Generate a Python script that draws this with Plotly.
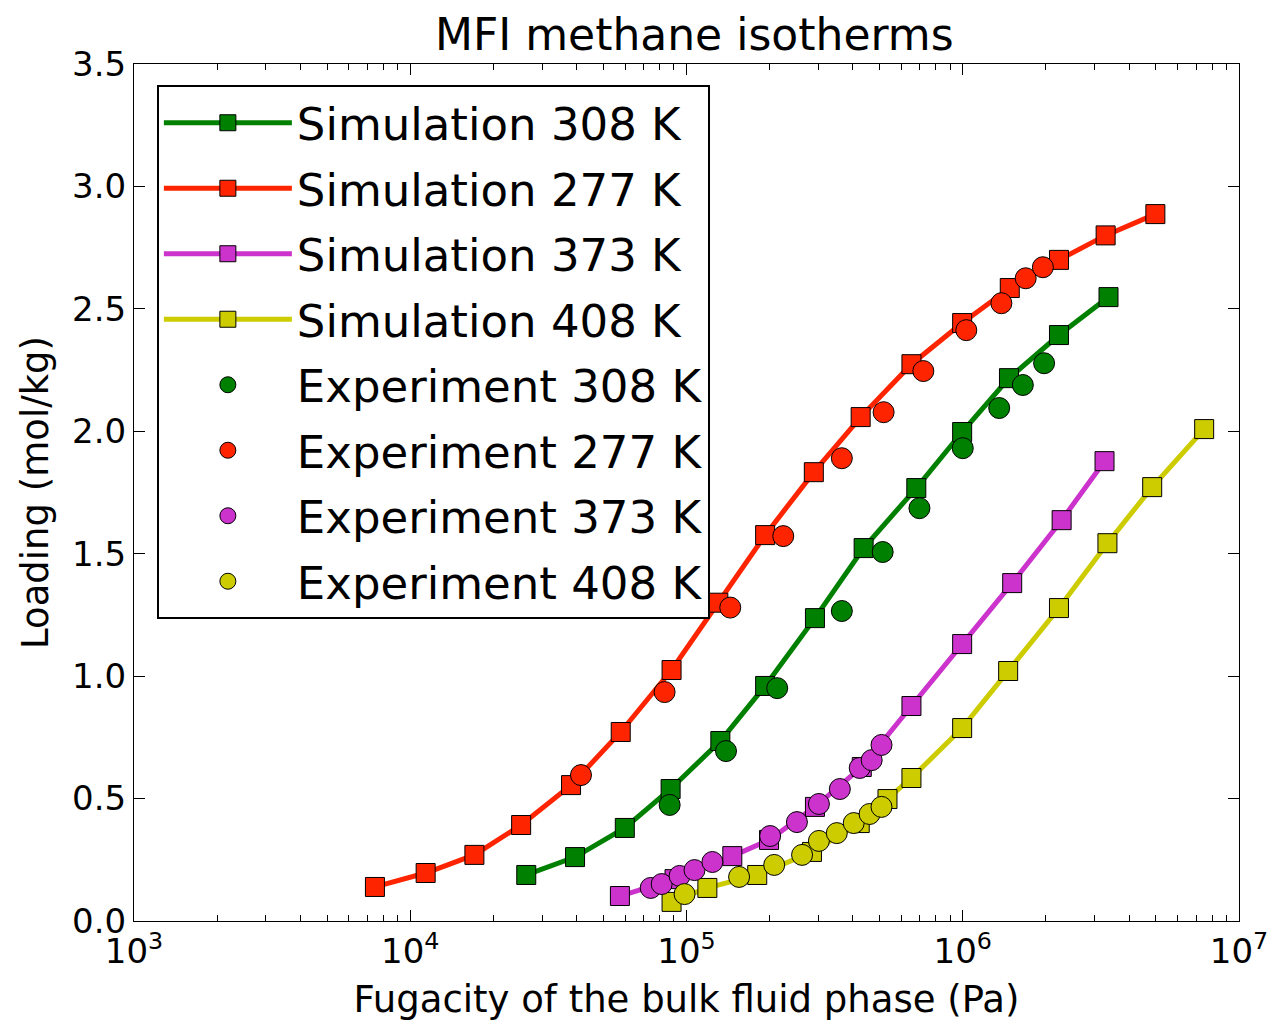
import plotly.graph_objects as go

# ---------------- data ----------------
sim308_p = [26300, 39500, 59800, 87600, 132600, 192600, 291700, 437700, 679000, 995000, 1.47e6, 2.23e6, 3.37e6]
sim308_q = [0.188, 0.261, 0.380, 0.539, 0.735, 0.960, 1.237, 1.523, 1.768, 1.997, 2.217, 2.393, 2.548]

sim277_p = [7450, 11370, 17070, 25200, 38200, 57800, 88300, 130400, 192600, 289000, 427000, 652000, 995000, 1.48e6, 2.23e6, 3.29e6, 4.98e6]
sim277_q = [0.139, 0.196, 0.270, 0.392, 0.555, 0.772, 1.025, 1.300, 1.576, 1.833, 2.058, 2.274, 2.442, 2.585, 2.700, 2.800, 2.887]

sim373_p = [57400, 90500, 146500, 199000, 291700, 431000, 652000, 995000, 1.51e6, 2.28e6, 3.26e6]
sim373_q = [0.102, 0.171, 0.265, 0.331, 0.466, 0.629, 0.878, 1.131, 1.380, 1.637, 1.878]

sim408_p = [88300, 119000, 180300, 284500, 423700, 534000, 652000, 995000, 1.46e6, 2.23e6, 3.34e6, 4.85e6, 7.48e6]
sim408_q = [0.078, 0.135, 0.188, 0.282, 0.400, 0.498, 0.584, 0.788, 1.021, 1.278, 1.543, 1.772, 2.009]

exp308_p = [86900, 139000, 213000, 365000, 513000, 697000, 1.00e6, 1.355e6, 1.65e6, 1.97e6]
exp308_q = [0.474, 0.694, 0.951, 1.266, 1.507, 1.686, 1.931, 2.095, 2.189, 2.278]

exp277_p = [41500, 83300, 144000, 224000, 365000, 517000, 720000, 1.03e6, 1.38e6, 1.69e6, 1.95e6]
exp277_q = [0.596, 0.935, 1.280, 1.572, 1.890, 2.078, 2.246, 2.413, 2.523, 2.625, 2.670]

exp373_p = [74200, 81300, 94400, 106900, 124100, 200800, 251000, 301500, 359000, 423700, 468000, 508000]
exp373_q = [0.135, 0.151, 0.184, 0.208, 0.241, 0.347, 0.404, 0.478, 0.539, 0.625, 0.657, 0.719]

exp408_p = [98400, 155000, 207700, 262000, 301500, 350000, 403000, 460000, 508000]
exp408_q = [0.110, 0.180, 0.229, 0.270, 0.327, 0.359, 0.400, 0.437, 0.466]

x_tickvals = [1e3, 1e4, 1e5, 1e6, 1e7]
x_ticktext = ["10<sup>3</sup>", "10<sup>4</sup>", "10<sup>5</sup>", "10<sup>6</sup>", "10<sup>7</sup>"]

# ---------------- styling ----------------
GREEN = "#008000"
RED = "#ff2400"
MAGENTA = "#cc33cc"
YELLOW = "#cccc00"
FONT = "DejaVu Sans"

fig = go.Figure()

def sim(name, p, q, color):
    fig.add_trace(go.Scatter(
        x=p, y=q, name=name, mode="lines+markers", legendgroup=name,
        line=dict(color=color, width=5),
        marker=dict(symbol="square", size=19, color=color, line=dict(color="black", width=1)),
    ))

def exp(name, p, q, color):
    fig.add_trace(go.Scatter(
        x=p, y=q, name=name, mode="markers", legendgroup=name,
        marker=dict(symbol="circle", size=21, color=color, line=dict(color="black", width=1)),
    ))

sim("Simulation 308 K", sim308_p, sim308_q, GREEN)
sim("Simulation 277 K", sim277_p, sim277_q, RED)
sim("Simulation 373 K", sim373_p, sim373_q, MAGENTA)
sim("Simulation 408 K", sim408_p, sim408_q, YELLOW)
exp("Experiment 308 K", exp308_p, exp308_q, GREEN)
exp("Experiment 277 K", exp277_p, exp277_q, RED)
exp("Experiment 373 K", exp373_p, exp373_q, MAGENTA)
exp("Experiment 408 K", exp408_p, exp408_q, YELLOW)

fig.update_layout(
    width=1280, height=1025,
    margin=dict(l=134, r=35, t=64, b=104),
    paper_bgcolor="white", plot_bgcolor="white",
    font=dict(family=FONT, color="black"),
    title=dict(text="MFI methane isotherms", x=0.5424, xanchor="center", y=0.966, yanchor="middle",
               font=dict(size=44, family=FONT, color="black")),
    legend=dict(
        x=0.0207, y=0.9755, xanchor="left", yanchor="top",
        bgcolor="white", bordercolor="black", borderwidth=2,
        font=dict(size=45, family=FONT, color="black"),
        tracegroupgap=4, itemwidth=128,
    ),
    showlegend=True,
)

fig.update_xaxes(
    type="log", range=[3, 7],
    tickvals=x_tickvals, ticktext=x_ticktext,
    ticks="inside", ticklen=11, tickwidth=1, tickcolor="black",
    minor=dict(ticks="inside", ticklen=6, tickwidth=1, tickcolor="black", dtick="D1", showgrid=False),
    showline=True, linecolor="black", linewidth=1, mirror="ticks",
    showgrid=False, zeroline=False,
    tickfont=dict(size=34, family=FONT),
    title=dict(text="Fugacity of the bulk fluid phase (Pa)", font=dict(size=37, family=FONT), standoff=16),
)
fig.update_yaxes(
    range=[0, 3.5], dtick=0.5, tickformat=".1f",
    ticks="inside", ticklen=11, tickwidth=1, tickcolor="black",
    showline=True, linecolor="black", linewidth=1, mirror="ticks",
    showgrid=False, zeroline=False,
    tickfont=dict(size=34, family=FONT),
    title=dict(text="Loading (mol/kg)", font=dict(size=37, family=FONT), standoff=12),
)

fig.write_html("out.html")
